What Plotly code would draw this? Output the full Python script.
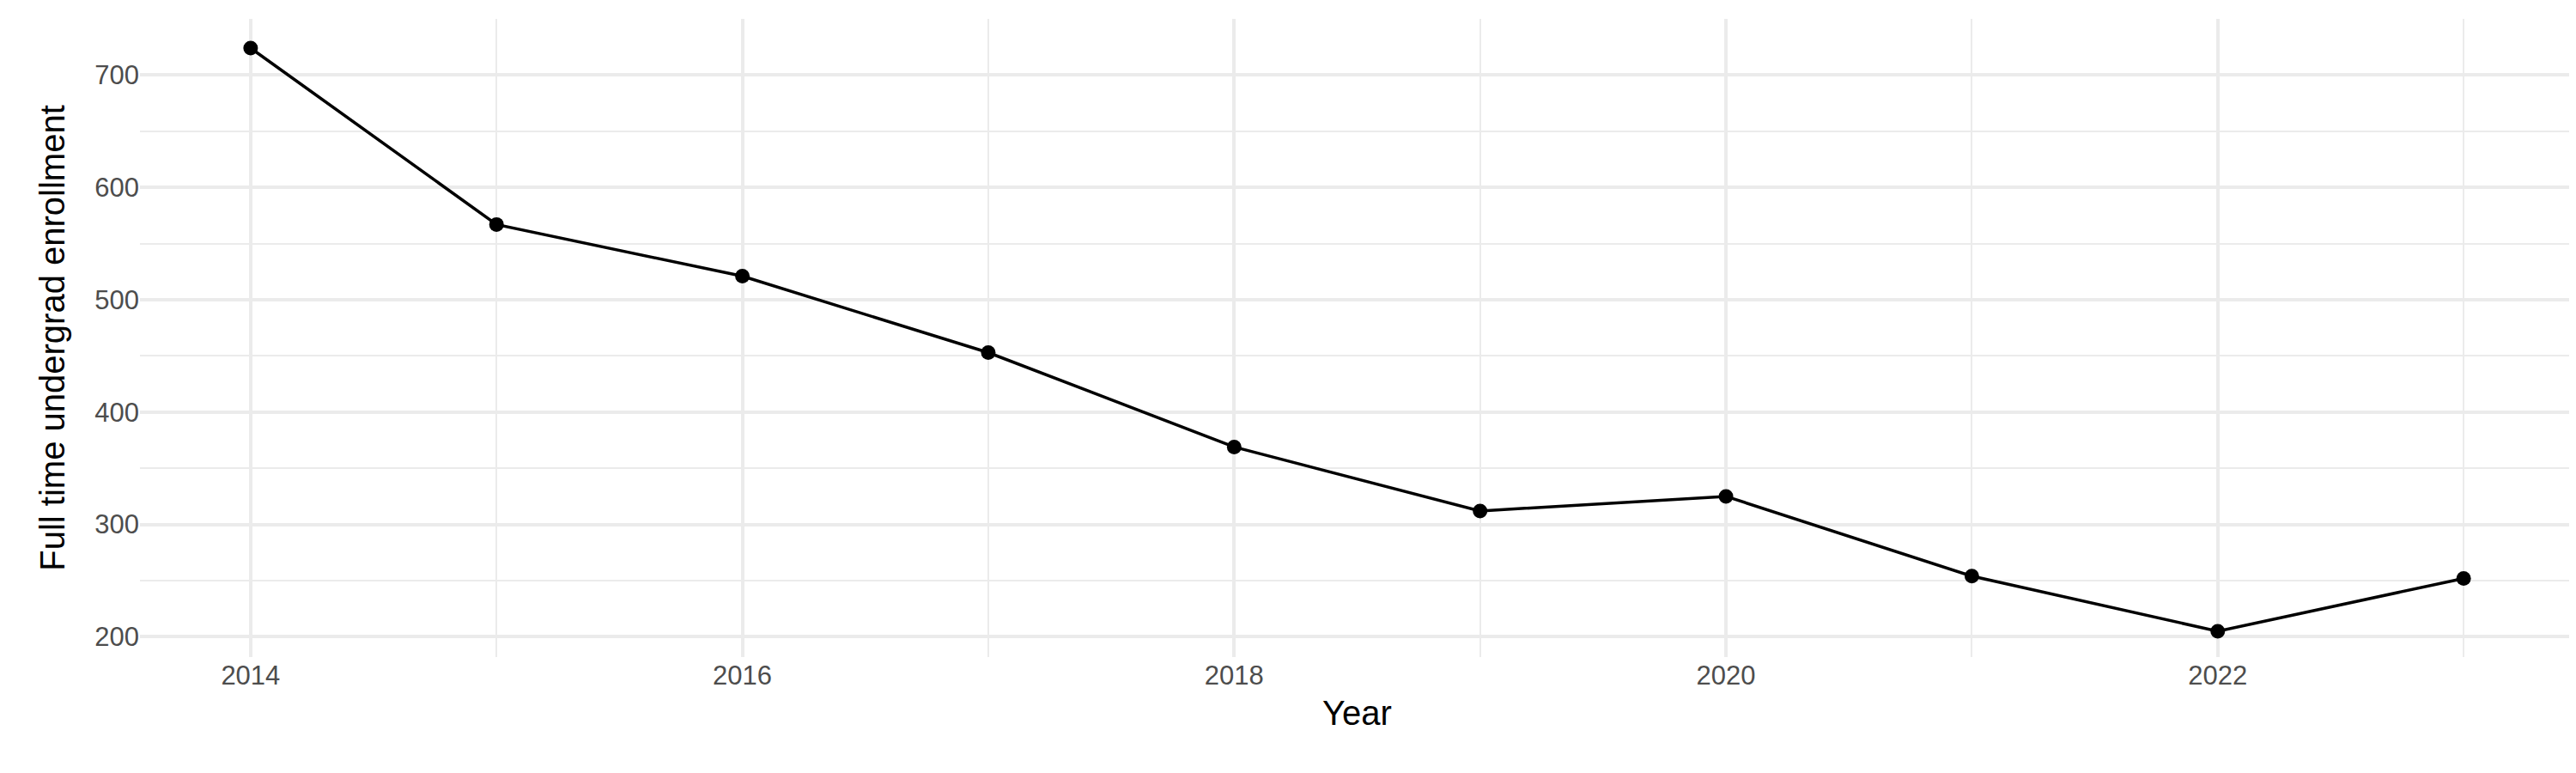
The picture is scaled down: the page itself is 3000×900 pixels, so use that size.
import plotly.graph_objects as go

years = [2014, 2015, 2016, 2017, 2018, 2019, 2020, 2021, 2022, 2023]
enrollment = [724, 567, 521, 453, 369, 312, 325, 254, 205, 252]

fig = go.Figure()
fig.add_scatter(x=years, y=enrollment, mode='lines+markers',
                line=dict(color='black', width=3.5),
                marker=dict(color='black', size=17))

grid = '#ebebeb'
fig.update_layout(
    width=3000, height=900,
    plot_bgcolor='white', paper_bgcolor='white',
    margin=dict(l=155, r=10, t=14, b=143),
    font=dict(family='Liberation Sans, Arial', color='#4d4d4d', size=31),
    showlegend=False,
)
fig.update_xaxes(
    title=dict(text='Year', font=dict(size=40, color='black'), standoff=12),
    range=[2013.55, 2023.45], tickvals=[2014, 2016, 2018, 2020, 2022],
    showgrid=True, gridcolor=grid, gridwidth=3.5, zeroline=False,
    minor=dict(tickvals=[2015, 2017, 2019, 2021, 2023], showgrid=True,
               gridcolor=grid, gridwidth=1.8),
)
fig.update_yaxes(
    title=dict(text='Full time undergrad enrollment', font=dict(size=40, color='black'), standoff=22),
    range=[182, 750], tickvals=[200, 300, 400, 500, 600, 700],
    showgrid=True, gridcolor=grid, gridwidth=3.5, zeroline=False,
    minor=dict(tickvals=[250, 350, 450, 550, 650], showgrid=True,
               gridcolor=grid, gridwidth=1.8),
)

fig.write_html('out.html')
